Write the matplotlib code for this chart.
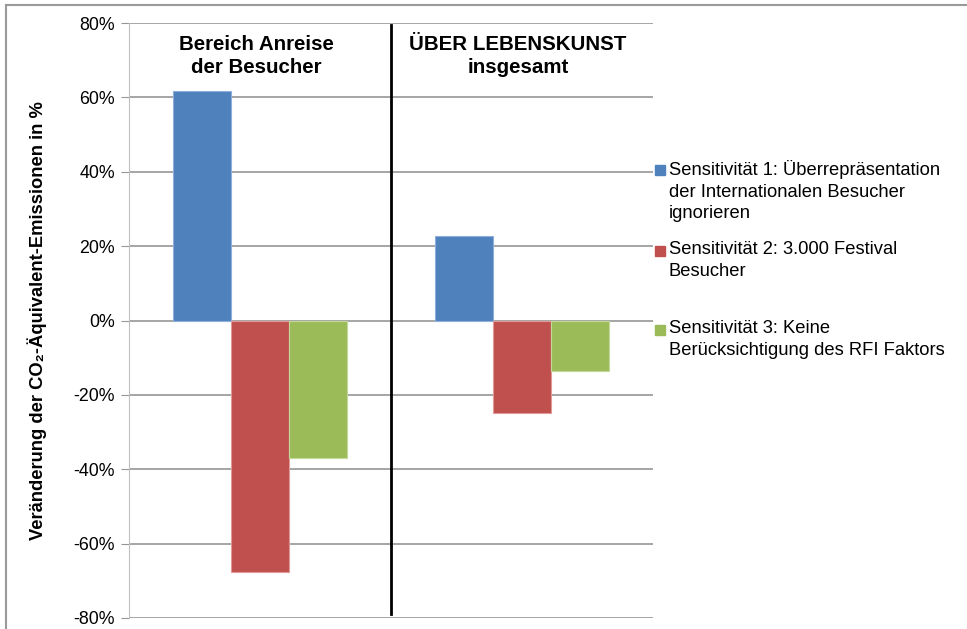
import matplotlib
matplotlib.use("Agg")
import matplotlib.pyplot as plt
from matplotlib.lines import Line2D
from matplotlib.patches import Rectangle
import numpy as np

plt.rcParams['font.family'] = ['Liberation Sans', 'DejaVu Sans']

# data
groups = ['Bereich Anreise\nder Besucher', 'ÜBER LEBENSKUNST\ninsgesamt']
series = ['Sensitivität 1: Überrepräsentation\nder Internationalen Besucher\nignorieren',
          'Sensitivität 2: 3.000 Festival\nBesucher',
          'Sensitivität 3: Keine\nBerücksichtigung des RFI Faktors']
sens1 = [61.7, 22.7]
sens2 = [-67.6, -24.8]
sens3 = [-36.9, -13.5]
colors = ['#4F81BD', '#C0504D', '#9BBB59']
edges = ['#8EAEDB', '#E29A98', '#C3D99A']
yticks = [-80, -60, -40, -20, 0, 20, 40, 60, 80]

fig = plt.figure(figsize=(9.67, 6.29), dpi=100)
ax = fig.add_axes([129 / 967, 1 - 618 / 629, 524 / 967, 595 / 629])

x = np.arange(len(groups))
w = 58 / 262
for i, vals in enumerate([sens1, sens2, sens3]):
    ax.bar(x + (i - 1) * w, vals, width=w, color=colors[i], edgecolor=edges[i],
           linewidth=0.8, zorder=3)

ax.set_xlim(-0.5, 1.5)
ax.set_ylim(-80, 80)
ax.set_yticks(yticks)
ax.set_yticklabels([f'{t}%' for t in yticks], fontsize=12.8)
ax.set_xticks([])
ax.yaxis.grid(True, color='#969696', linewidth=1.2, zorder=0)
ax.tick_params(axis='y', length=6, color='#969696', pad=4)
for s in ['top', 'right', 'bottom']:
    ax.spines[s].set_visible(False)
ax.spines['left'].set_color('#c0c0c0')

# divider between the two groups
ax.plot([0.5, 0.5], [-79, 79.5], color='black', linewidth=2, zorder=4)

for xi, g in zip(x, groups):
    ax.text(xi - 0.015, 76.8, g, ha='center', va='top', fontsize=14.8,
            fontweight='bold', linespacing=1.3)

ax.set_ylabel('Veränderung der CO₂-Äquivalent-Emissionen in %', fontsize=13.2,
              fontweight='bold')
ax.yaxis.set_label_coords(-0.156, 0.5)

# legend entries
leg_y = [170, 251, 330]
for c, lab, yy in zip(colors, series, leg_y):
    fig.patches.append(Rectangle((655 / 967, 1 - (yy + 5) / 629), 10 / 967, 10 / 629,
                                 transform=fig.transFigure, color=c))
    fig.text(669 / 967, 1 - (yy - 10) / 629, lab, fontsize=13.2, va='top', ha='left',
             linespacing=1.36)

# outer frame
fig.add_artist(Line2D([6 / 967, 1], [1 - 5 / 629, 1 - 5 / 629], color='#9a9a9a',
                      linewidth=1.5, transform=fig.transFigure))
fig.add_artist(Line2D([6 / 967, 6 / 967], [0, 1 - 5 / 629], color='#9a9a9a',
                      linewidth=1.5, transform=fig.transFigure))

fig.savefig('out.png', dpi=100)
